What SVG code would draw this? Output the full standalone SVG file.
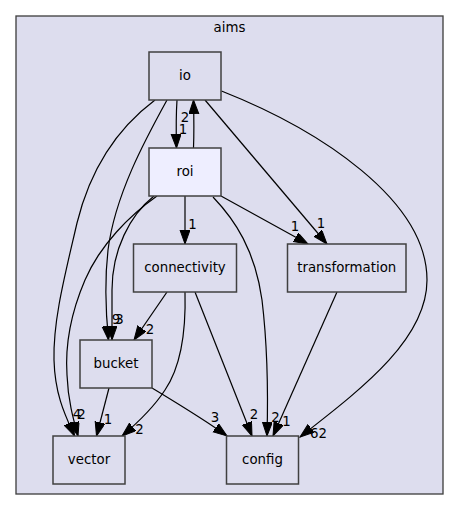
<svg xmlns="http://www.w3.org/2000/svg" width="459" height="511" viewBox="0 0 459 511">
<style>
text{font-family:"DejaVu Sans","Liberation Sans",sans-serif;font-size:13.33px;fill:#000;text-anchor:middle}
.node rect{fill:#ddddee;stroke:#404040;stroke-width:1.5}
#roi rect{fill:#eeeeff}
#edges path{fill:none;stroke:#000;stroke-width:1.2;marker-end:url(#arr)}
</style>
<defs>
<marker id="arr" markerUnits="userSpaceOnUse" markerWidth="15" markerHeight="11" refX="14" refY="5" orient="auto" viewBox="0 0 15 11">
<path d="M0,0 L14,5 L0,10 z" fill="#000" stroke="#000" stroke-width="1"/>
</marker>
</defs>
<rect width="459" height="511" fill="#fff"/>
<g id="cluster_aims">
<rect x="16" y="16" width="427" height="478" fill="#ddddee" stroke="#404040" stroke-width="1.33"/>
<text x="229.5" y="32">aims</text>
</g>
<g id="edges">
<path d="M177,100 C176,115 176,128 176.5,148"/>
<path d="M193.5,148 C194,135 194,120 193.5,100"/>
<path d="M155,100 C115,130 90,170 77,223 C65,275 53,320 54,360 C55,395 65,415 74.5,436"/>
<path d="M157,196 C130,215 100,245 85,280 C70,315 65,345 67,375 C68,400 73,418 78,436"/>
<path d="M167,100 C145,140 115,195 108,250 C104,285 106,315 108.5,340"/>
<path d="M154,196 C130,215 112,250 112,290 C112,310 112,325 112,340"/>
<path d="M205,100 L327,244"/>
<path d="M221,196 L308,244"/>
<path d="M221.5,91 C320,130 427,200 427,280 C427,340 360,390 300,437"/>
<path d="M185,196 L185,244"/>
<path d="M213,197 C235,220 255,250 262,300 C268,350 268,400 267,436"/>
<path d="M167,292 L134,340"/>
<path d="M185,292 C186,330 182,365 165,390 C152,410 135,425 122,436"/>
<path d="M195,292 L252,436"/>
<path d="M337,292 L273,436"/>
<path d="M109,388 L96.5,436"/>
<path d="M152,388 C180,405 205,420 227,436"/>
</g>
<g id="edge_labels">
<text x="185" y="121.5">2</text>
<text x="183" y="133.5">1</text>
<text x="192.5" y="229">1</text>
<text x="295" y="231">1</text>
<text x="321" y="228">1</text>
<text x="116" y="323.5">9</text>
<text x="119.5" y="323.5">3</text>
<text x="150" y="334">2</text>
<text x="77" y="419">4</text>
<text x="81.5" y="419">2</text>
<text x="108" y="424">1</text>
<text x="139.5" y="434">2</text>
<text x="215" y="422">3</text>
<text x="254" y="419">2</text>
<text x="275.5" y="422">2</text>
<text x="286.5" y="426">1</text>
<text x="318.5" y="438">62</text>
</g>
<g id="io" class="node"><rect x="149" y="52" width="72" height="48"/><text x="185" y="79.8">io</text></g>
<g id="roi" class="node"><rect x="149" y="148" width="72" height="48"/><text x="185" y="175.8">roi</text></g>
<g id="connectivity" class="node"><rect x="133.5" y="244" width="103" height="48"/><text x="185" y="271.8">connectivity</text></g>
<g id="transformation" class="node"><rect x="287.5" y="244" width="118.5" height="48"/><text x="346.75" y="271.8">transformation</text></g>
<g id="bucket" class="node"><rect x="80" y="340" width="72" height="48"/><text x="116" y="367.8">bucket</text></g>
<g id="vector" class="node"><rect x="53" y="436" width="72" height="48"/><text x="89" y="463.8">vector</text></g>
<g id="config" class="node"><rect x="226.5" y="436" width="72" height="48"/><text x="262.5" y="463.8">config</text></g>
</svg>
